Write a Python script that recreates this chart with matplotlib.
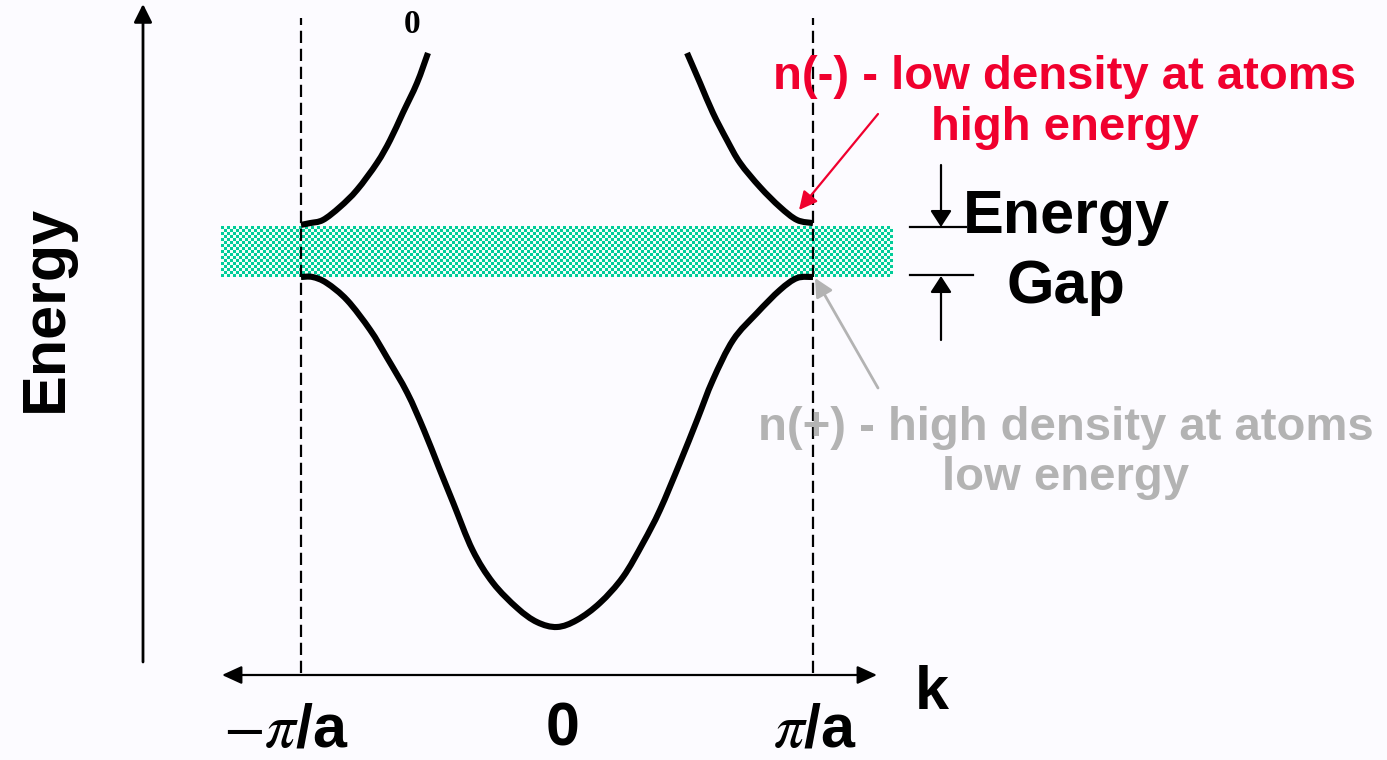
import numpy as np
import matplotlib
matplotlib.use("Agg")
import matplotlib.pyplot as plt
from matplotlib.path import Path
from matplotlib.patches import PathPatch
from matplotlib.colors import ListedColormap

# ---------------- data ----------------
# k in units of pi/a, energy in arbitrary units (bottom of lower band = 0, top = 1)
lower_k = [-1.0, -0.955, -0.90, -0.82, -0.73, -0.665, -0.585, -0.52, -0.462, -0.405,
           -0.33, -0.25, -0.155, -0.078, 0.0, 0.078, 0.168, 0.258, 0.336, 0.402,
           0.48, 0.547, 0.609, 0.688, 0.781, 0.871, 0.9375, 1.0]
lower_E = [1.0, 1.0, 0.983, 0.934, 0.849, 0.771, 0.669, 0.563, 0.457, 0.354,
           0.22, 0.126, 0.054, 0.014, 0.0, 0.02, 0.069, 0.143, 0.24, 0.334,
           0.469, 0.591, 0.706, 0.82, 0.897, 0.963, 0.997, 1.0]

upper_left_k = [-1.0, -0.965, -0.914, -0.848, -0.781, -0.703, -0.652, -0.602, -0.547, -0.504]
upper_left_E = [1.149, 1.154, 1.163, 1.2, 1.249, 1.326, 1.391, 1.469, 1.554, 1.64]
upper_right_k = [0.508, 0.559, 0.609, 0.664, 0.715, 0.793, 0.871, 0.9375, 1.0]
upper_right_E = [1.64, 1.554, 1.469, 1.391, 1.326, 1.257, 1.2, 1.163, 1.154]

gap_bottom = 1.0
gap_top = 1.143
zone_edges = [-1.0, 1.0]
tick_k = [-1.0, 0.0, 1.0]
tick_labels = [r"$-\pi$/a", "0", r"$\pi$/a"]

# ---------------- style ----------------
BG = "#FCFBFF"
RED = "#F0002E"
GRAY = "#B3B3B3"
GREEN = "#00CC99"

plt.rcParams["mathtext.fontset"] = "stix"
SANS = ["Liberation Sans", "DejaVu Sans"]

W, H = 1387, 760
fig = plt.figure(figsize=(W / 100, H / 100), dpi=100, facecolor=BG)
ax = fig.add_axes([0, 0, 1, 1])
ax.set_facecolor(BG)

# pixel <-> data mapping (k=-1 at x=301, k=1 at x=813; E=0 at y=627, E=1 at y=277)
X_ORIG, X_SCALE = 557.0, 256.0
Y_ORIG, Y_SCALE = 627.0, 350.0


def P(x, y):
    return ((x - X_ORIG) / X_SCALE, (Y_ORIG - y) / Y_SCALE)


ax.set_xlim(P(0, 0)[0], P(W, 0)[0])
ax.set_ylim(P(0, H)[1], P(0, 0)[1])
ax.axis("off")

# energy gap band (checkered green)
band_left = P(221, 0)[0]
band_right = P(893, 0)[0]
nx, ny = 224, 17
ii, jj = np.meshgrid(np.arange(nx), np.arange(ny))
checker = ((ii + jj) % 2).astype(float)
cmap = ListedColormap([GREEN, "#F2FFFA"])
ax.imshow(checker, cmap=cmap, interpolation="nearest", aspect="auto",
          extent=[band_left, band_right, gap_bottom, gap_top], zorder=1)

# zone boundaries (dashed)
ax.vlines(zone_edges, P(0, 673)[1], P(0, 18)[1], colors="black", lw=1.6,
          linestyles=(0, (5.5, 2.6)), zorder=2)


# bands: smooth curve through the read points (Catmull-Rom -> cubic Bezier)
def smooth_curve(xs, ys):
    pts = np.column_stack([xs, ys]).astype(float)
    n = len(pts)
    verts = [pts[0]]
    codes = [Path.MOVETO]
    for i in range(n - 1):
        p0 = pts[i - 1] if i > 0 else pts[i]
        p1 = pts[i]
        p2 = pts[i + 1]
        p3 = pts[i + 2] if i + 2 < n else pts[i + 1]
        c1 = p1 + (p2 - p0) / 6.0
        c2 = p2 - (p3 - p1) / 6.0
        verts += [c1, c2, p2]
        codes += [Path.CURVE4] * 3
    return Path(verts, codes)


for xs, ys in [(lower_k, lower_E), (upper_left_k, upper_left_E),
               (upper_right_k, upper_right_E)]:
    ax.add_patch(PathPatch(smooth_curve(xs, ys), facecolor="none", edgecolor="black",
                           lw=4.4, capstyle="butt", joinstyle="round", zorder=3))


# arrows
def arrow(p_from, p_to, color="black", lw=1.8, hl=1.1, hw=0.55, ms=10, style="-|>"):
    ax.annotate("", xy=P(*p_to), xytext=P(*p_from),
                arrowprops=dict(arrowstyle=f"{style},head_length={hl},head_width={hw}",
                                color=color, lw=lw, shrinkA=0, shrinkB=0,
                                mutation_scale=ms), zorder=4)


arrow((143, 662), (143, 4), lw=2.0, hl=1.1, hw=0.55)
ax.annotate("", xy=P(222, 675), xytext=P(877, 675),
            arrowprops=dict(arrowstyle="<|-|>,head_length=1.2,head_width=0.55",
                            color="black", lw=1.6, shrinkA=0, shrinkB=0,
                            mutation_scale=10), zorder=4)

# energy gap markers
ax.plot([P(910, 0)[0], P(966, 0)[0]], [P(0, 227.5)[1]] * 2, color="black", lw=1.6, zorder=4)
ax.plot([P(910, 0)[0], P(973, 0)[0]], [P(0, 275.5)[1]] * 2, color="black", lw=1.6, zorder=4)
arrow((941, 165), (941, 227), lw=1.6, hl=1.0, hw=0.65)
arrow((941, 340), (941, 276), lw=1.6, hl=1.0, hw=0.65)

# annotation arrows
arrow((878, 114), (799, 210), color=RED, lw=1.6, hl=1.1, hw=0.55)
arrow((878, 388), (815, 278), color=GRAY, lw=2.0, hl=1.1, hw=0.55)


# ---------------- text ----------------
def T(x, y, s, size=44, color="black", ha="center", va="baseline", **k):
    ax.text(*P(x, y), s, fontsize=size, color=color, ha=ha, va=va,
            family=SANS, fontweight="bold", zorder=5, **k)


T(46, 308, "Energy", va="center", rotation=90)
T(915, 709, "k", ha="left")
T(1066, 233, "Energy")
T(1066, 303, "Gap")

T(1065, 89, "n(-) - low density at atoms", size=34, color=RED)
T(1065, 140, "high energy", size=34, color=RED)
T(1066, 440, "n(+) - high density at atoms", size=34, color=GRAY)
T(1066, 490, "low energy", size=34, color=GRAY)

tick_dx = [-15, 6, 2]
for kk, lab, dx in zip(tick_k, tick_labels, tick_dx):
    xpix = X_ORIG + kk * X_SCALE + dx
    T(xpix, 746, lab)

ax.text(*P(412, 33), "0", fontsize=24, family=["Liberation Serif", "DejaVu Serif"],
        fontweight="bold", ha="center", va="baseline", zorder=5)

fig.savefig("out.png", dpi=100, facecolor=BG)
